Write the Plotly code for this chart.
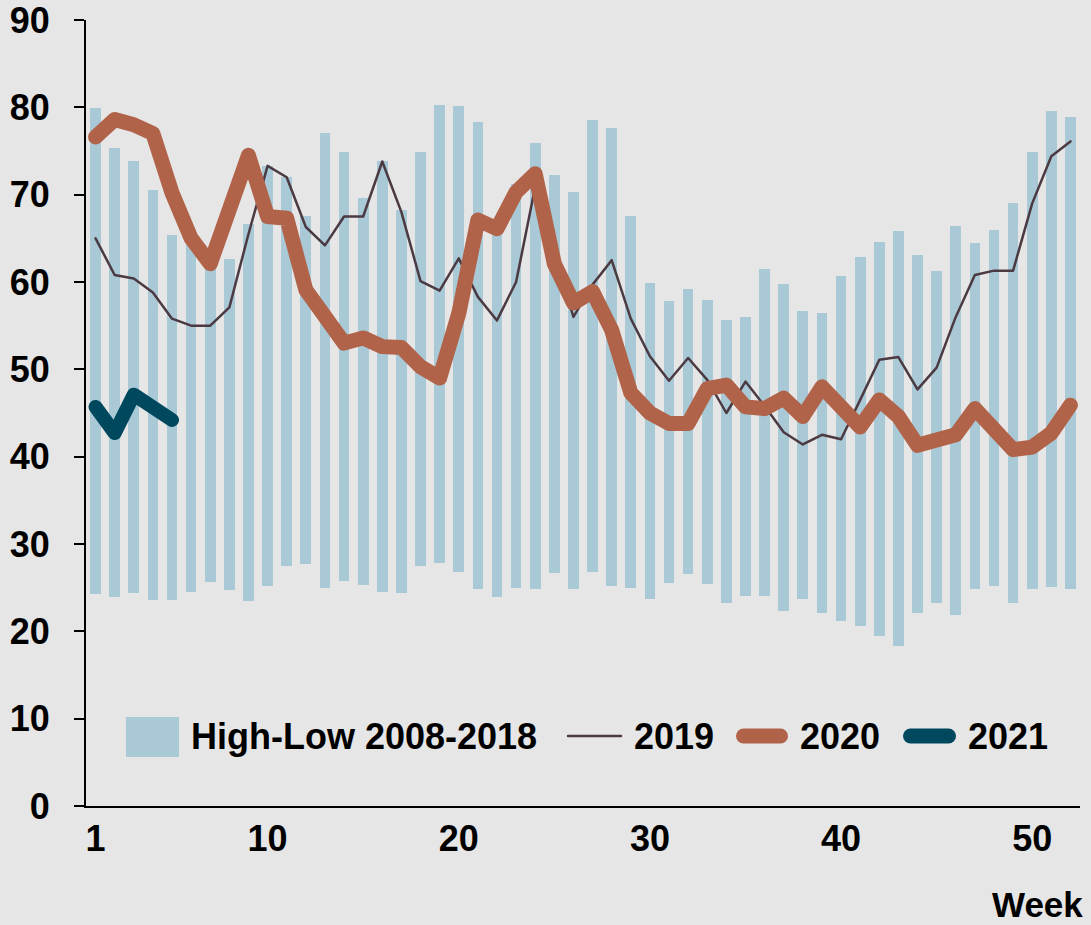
import plotly.graph_objects as go

weeks = list(range(1, 53))
tick_weeks = [1, 10, 20, 30, 40, 50]

high = [79.9, 75.3, 73.8, 70.5, 65.4, 64.6, 63.0, 62.6, 66.6, 73.3,
        72.0, 67.6, 77.1, 74.9, 69.6, 73.8, 68.2, 74.9, 80.3, 80.2,
        78.3, 67.0, 71.2, 75.9, 72.3, 70.3, 78.6, 77.6, 67.6, 59.9,
        57.8, 59.2, 57.9, 55.6, 56.0, 61.5, 59.8, 56.7, 56.4, 60.7,
        62.9, 64.6, 65.8, 63.1, 61.3, 66.4, 64.5, 66.0, 69.1, 74.9,
        79.6, 78.9]
low = [24.3, 23.9, 24.4, 23.6, 23.6, 24.5, 25.6, 24.7, 23.5, 25.2,
       27.5, 27.7, 25.0, 25.8, 25.3, 24.5, 24.4, 27.5, 27.8, 26.8,
       24.8, 23.9, 25.0, 24.8, 26.7, 24.8, 26.8, 25.2, 25.0, 23.7,
       25.5, 26.6, 25.4, 23.3, 24.1, 24.1, 22.3, 23.7, 22.1, 21.2,
       20.6, 19.5, 18.3, 22.1, 23.3, 21.9, 24.9, 25.2, 23.2, 24.9,
       25.1, 24.9]
y2019 = [65.0, 60.8, 60.4, 58.8, 55.8, 55.0, 55.0, 57.1, 65.5, 73.3,
         72.0, 66.3, 64.2, 67.5, 67.5, 73.8, 68.0, 60.1, 59.0, 62.7,
         58.3, 55.6, 60.0, 70.9, 63.0, 56.0, 59.7, 62.5, 55.8, 51.5,
         48.7, 51.3, 48.8, 45.0, 48.6, 45.8, 42.8, 41.4, 42.5, 42.0,
         46.5, 51.1, 51.4, 47.7, 50.2, 56.0, 60.8, 61.3, 61.3, 69.0,
         74.4, 76.1]
y2020 = [76.6, 78.6, 78.0, 77.0, 70.2, 65.0, 62.1, 68.2, 74.5, 67.5,
         67.3, 59.1, 55.8, 53.0, 53.6, 52.6, 52.5, 50.3, 49.0, 56.4,
         67.1, 66.1, 70.3, 72.4, 62.1, 57.6, 58.9, 54.5, 47.3, 45.0,
         43.8, 43.8, 47.8, 48.2, 45.7, 45.5, 46.7, 44.6, 48.0, 45.9,
         43.4, 46.5, 44.6, 41.3, 42.1, 42.5, 45.5, 43.2, 40.8, 41.1,
         42.7, 45.9]
weeks2021 = [1, 2, 3, 4, 5]
y2021 = [45.7, 42.7, 47.1, 45.5, 44.2]

C_BAR = "#a9c9d6"
C_2019 = "#4b3a42"
C_2020 = "#b16349"
C_2021 = "#00485e"
BG = "#e6e6e6"
FONT = "Liberation Sans, Arial, sans-serif"

fig = go.Figure()
fig.add_trace(go.Bar(x=weeks, y=[h - l for h, l in zip(high, low)], base=low,
                     width=0.56, marker=dict(color=C_BAR, line=dict(width=0)),
                     name="High-Low 2008-2018", showlegend=False))
fig.add_trace(go.Scatter(x=weeks, y=y2019, mode="lines", name="2019",
                         line=dict(color=C_2019, width=2.5), showlegend=False))
fig.add_trace(go.Scatter(x=weeks, y=y2020, mode="lines", name="2020",
                         line=dict(color=C_2020, width=15), showlegend=False))
fig.add_trace(go.Scatter(x=weeks2021, y=y2021, mode="lines", name="2021",
                         line=dict(color=C_2021, width=14), showlegend=False))

W, H = 1091, 925
ML, MR, MT, MB = 86, 11, 20, 119
PW, PH = W - ML - MR, H - MT - MB

def px(xp):
    return (xp - ML) / PW

def py(yp):
    return (H - MB - yp) / PH

ly = py(736)
shapes = [
    dict(type="rect", xref="paper", yref="paper", x0=px(126), x1=px(179),
         y0=py(757), y1=py(717), fillcolor=C_BAR, line=dict(width=0)),
    dict(type="line", xref="paper", yref="paper", x0=px(568), x1=px(621),
         y0=ly, y1=ly, line=dict(color=C_2019, width=2.5)),
    dict(type="line", xref="paper", yref="paper", x0=px(743.5), x1=px(780.5),
         y0=ly, y1=ly, line=dict(color=C_2020, width=15)),
    dict(type="line", xref="paper", yref="paper", x0=px(910.5), x1=px(948.5),
         y0=ly, y1=ly, line=dict(color=C_2021, width=15)),
]
legend_texts = [("High-Low 2008-2018", 189), ("2019", 632), ("2020", 798), ("2021", 966)]
annotations = [dict(text=t, x=px(xp), y=ly, xref="paper", yref="paper",
                    xanchor="left", yanchor="middle", showarrow=False,
                    font=dict(size=36, color="black", family=FONT, weight="bold"))
               for t, xp in legend_texts]
annotations.append(dict(text="Week", x=px(1084), y=py(925), xref="paper", yref="paper",
                        xanchor="right", yanchor="bottom", showarrow=False, borderpad=0,
                        font=dict(size=35, color="black", family=FONT, weight="bold")))

fig.update_layout(
    width=W, height=H,
    margin=dict(l=ML, r=MR, t=MT, b=MB, pad=0, autoexpand=False),
    paper_bgcolor=BG, plot_bgcolor=BG,
    font=dict(family=FONT, size=36, color="black", weight="bold"),
    showlegend=False,
    bargap=0,
    shapes=shapes,
    annotations=annotations,
    xaxis=dict(range=[0.5, 52.5], tickmode="array", tickvals=tick_weeks,
               ticktext=[str(v) for v in tick_weeks], showgrid=False, zeroline=False,
               showline=True, linecolor="black", linewidth=2, ticks="",
               ticklabeloverflow="allow", automargin=False,
               tickfont=dict(size=36, color="black", family=FONT, weight="bold")),
    yaxis=dict(range=[0, 90], tickmode="array", tickvals=list(range(0, 91, 10)),
               showgrid=False, zeroline=False, showline=True, linecolor="black",
               linewidth=2, ticks="outside", ticklen=10, tickwidth=2, tickcolor="black",
               ticklabelstandoff=17, ticklabeloverflow="allow", automargin=False,
               tickfont=dict(size=36, color="black", family=FONT, weight="bold")),
)

post = """
document.body.style.margin='0';
document.body.style.overflow='hidden';
var gd=document.getElementById('{plot_id}');
function fixcaps(){
  gd.querySelectorAll('.scatterlayer .js-line').forEach(function(p){p.style.strokeLinejoin='round';p.style.strokeLinecap='round';});
  gd.querySelectorAll('.shapelayer path').forEach(function(p){p.style.strokeLinecap='round';});
}
fixcaps();
gd.on('plotly_afterplot', fixcaps);
"""
fig.write_html("out.html", post_script=post, config={"displayModeBar": False})
